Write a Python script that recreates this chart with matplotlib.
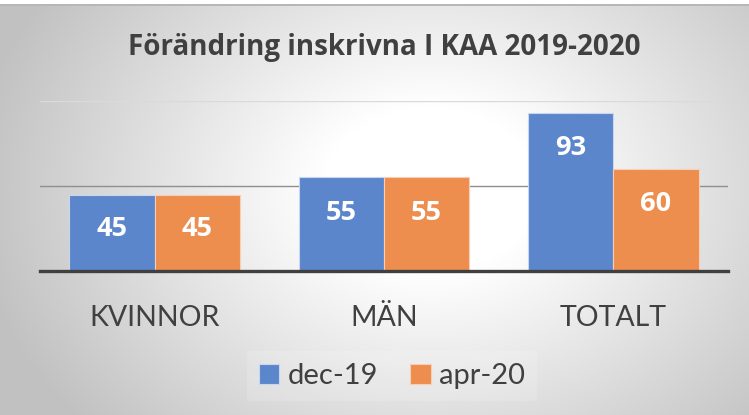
import numpy as np
import matplotlib
matplotlib.use("Agg")
import matplotlib.pyplot as plt

categories = ["KVINNOR", "MÄN", "TOTALT"]
series_names = ["dec-19", "apr-20"]
dec19 = [45, 55, 93]
apr20 = [45, 55, 60]
title = "Förändring inskrivna I KAA 2019-2020"

colors = ["#5B86CB", "#ED8D4E"]
font = "Lato"
bold_font = "Open Sans"

fig = plt.figure(figsize=(7.49, 4.15), dpi=100)

# radial gradient background
bg = fig.add_axes([0, 0, 1, 1], zorder=-10)
h, w = 415, 749
yy, xx = np.mgrid[0:h, 0:w]
cx, cy = 430, 190
r = np.sqrt(((xx - cx) / 430.0) ** 2 + ((yy - cy) / 330.0) ** 2)
val = 1.0 - 0.25 * np.clip(r - 0.25, 0, None) / 0.85
val = np.clip(val, 0.76, 1.0)
img = np.dstack([val, val, val])
img[0:5, :, :] = 1.0
img[5:7, :, :] = 0.72
bg.imshow(img, aspect="auto", extent=[0, 1, 0, 1], origin="upper")
bg.axis("off")

ax = fig.add_axes([40 / 749, 1 - 271 / 415, 688 / 749, 170 / 415])
ax.patch.set_alpha(0)

x = np.arange(len(categories))
bw = 0.372
b1 = ax.bar(x - bw / 2, dec19, bw, color=colors[0], edgecolor="#c9d6ee", linewidth=0.8, label=series_names[0], zorder=3)
b2 = ax.bar(x + bw / 2, apr20, bw, color=colors[1], edgecolor="#f6cfb4", linewidth=0.8, label=series_names[1], zorder=3)

for bars in (b1, b2):
    for b in bars:
        ax.annotate(f"{int(b.get_height())}", (b.get_x() + b.get_width() / 2, b.get_height()),
                    xytext=(0, -35), textcoords="offset pixels",
                    ha="center", va="center", color="white", fontsize=19.5,
                    fontweight="bold", family=bold_font, zorder=5)

ax.set_xlim(-0.5, 2.5)
ax.set_ylim(0, 100)
ax.set_yticks([0, 50, 100])
ax.yaxis.grid(True, zorder=0)
gls = ax.yaxis.get_gridlines()
gls[1].set_color("#8f8f8f"); gls[1].set_linewidth(1.0)
gls[2].set_color("#dadada"); gls[2].set_linewidth(1.0)
gls[0].set_visible(False)
ax.tick_params(axis="y", left=False, labelleft=False)
ax.tick_params(axis="x", bottom=False, pad=21)
ax.set_xticks(x)
ax.set_xticklabels(categories, fontsize=20.5, family=font, color="#404040")
for s in ["top", "right", "left"]:
    ax.spines[s].set_visible(False)
ax.spines["bottom"].set_color("#404040")
ax.spines["bottom"].set_linewidth(2.4)
ax.spines["bottom"].set_zorder(6)

fig.text(384 / 749, 1 - 47 / 415, title, ha="center", va="center",
         fontsize=20, fontweight="bold", family=bold_font, color="#404040")

leg = fig.legend(handles=[b1, b2], labels=series_names, loc="center",
                 bbox_to_anchor=(392 / 749, 1 - 376 / 415), ncol=2, frameon=True,
                 prop={"family": font, "size": 21}, handlelength=0.7, handleheight=0.7,
                 handletextpad=0.3, columnspacing=1.1, fancybox=False)
leg.get_frame().set_facecolor("white")
leg.get_frame().set_alpha(0.15)
leg.get_frame().set_linewidth(0)
for t in leg.get_texts():
    t.set_color("#404040")

fig.savefig("out.png", dpi=100)
